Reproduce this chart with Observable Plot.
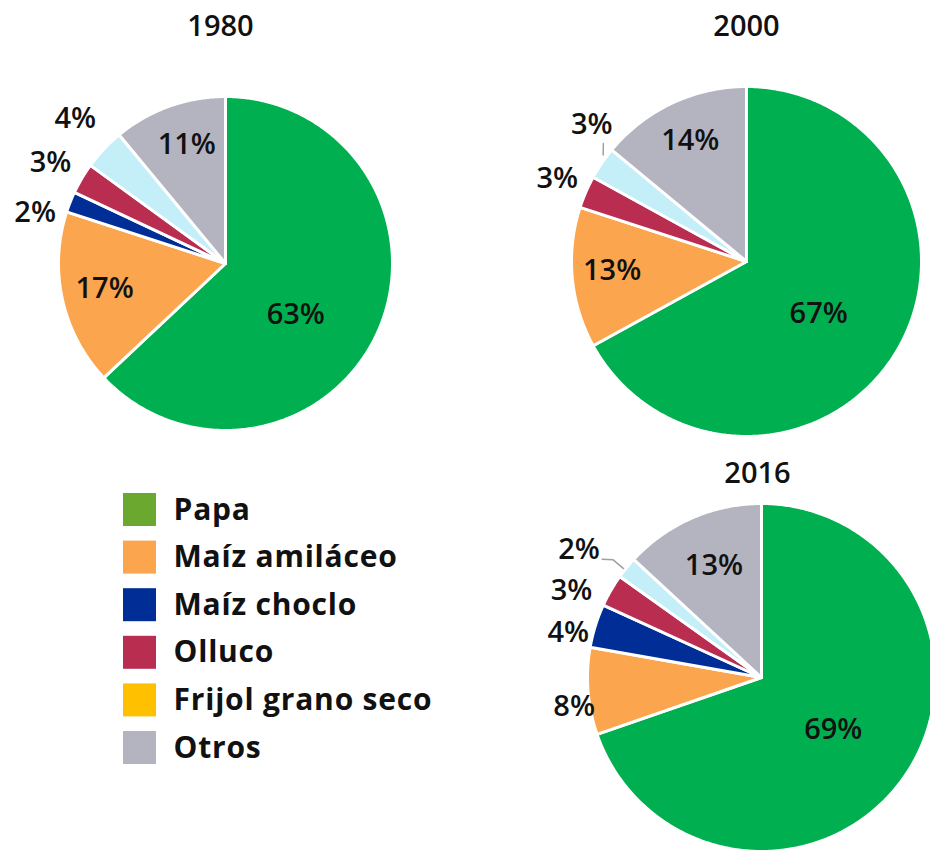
<!DOCTYPE html>
<html><head><meta charset="utf-8">
<script src="https://cdn.jsdelivr.net/npm/d3@7"></script>
<script src="https://cdn.jsdelivr.net/npm/@observablehq/plot@0.6"></script>
<style>html,body{margin:0;padding:0;background:#fff}svg{display:block}</style>
</head><body><div id="chart"></div>
<script>
// ---- data ----
const categories = ["Papa", "Maíz amiláceo", "Maíz choclo", "Olluco", "Frijol grano seco", "Otros"];
const years = ["1980", "2000", "2016"];
const values1980 = [63, 17, 2, 3, 4, 11];
const values2000 = [67, 13, 0, 3, 3, 14];
const values2016 = [69, 8, 4, 3, 2, 13];
const percentLabels1980 = ["63%", "17%", "2%", "3%", "4%", "11%"];
const percentLabels2000 = ["67%", "13%", "", "3%", "3%", "14%"];
const percentLabels2016 = ["69%", "8%", "4%", "3%", "2%", "13%"];

// ---- styles ----
const sliceColors = ["#00b050", "#fba64e", "#002e96", "#b82d50", "#c4eef8", "#b4b4c0"];
const legendColors = ["#6aa82f", "#fba64e", "#002e96", "#b82d50", "#ffc000", "#b4b4c0"];
const FONT = "'Open Sans', 'DejaVu Sans', sans-serif";

// ---- layout ----
const W = 930, H = 851;
const pieLayout = [
  {cx: 225, cy: 263, r: 167, tx: 220, ty: 26},
  {cx: 746, cy: 261, r: 175, tx: 746, ty: 26},
  {cx: 761, cy: 677, r: 174, tx: 757, ty: 473}
];
// label placement: [angle (deg, clockwise from top), radius fraction]
const labelPolar = [
  [[126, 0.52], [258, 0.74], [285, 1.18], [300, 1.21], [314, 1.25], [342, 0.75]],
  [[126, 0.51], [266, 0.77], null, [293.6, 1.18], [311.5, 1.18], [335, 0.76]],
  [[126, 0.51], [261, 1.09], [283, 1.14], [294.5, 1.2], [305, 1.28], [337, 0.70]]
];
// leader lines: list of [angle, radius fraction] points
const leaders = [
  [],
  [[[309.5, 1.06], [306.6, 1.02]]],
  [[[306.6, 1.14], [308.4, 1.09], [308.3, 1.01]]]
];
const legendLayout = {x1: 123, size: 33, y0: 493, step: 47.6, textX: 173};

const allValues = [values1980, values2000, values2016];
const allLabels = [percentLabels1980, percentLabels2000, percentLabels2016];

const polar = (p, deg, frac) => {
  const a = deg * Math.PI / 180;
  return {x: p.cx + p.r * frac * Math.sin(a), y: p.cy - p.r * frac * Math.cos(a)};
};

// slices -> polygons
const slicePts = [];
const labelData = [];
const leaderPts = [];
allValues.forEach((vals, pi) => {
  const p = pieLayout[pi];
  const total = d3.sum(vals);
  let acc = 0;
  vals.forEach((v, i) => {
    if (v <= 0) { return; }
    const a0 = acc / total * 360, a1 = (acc + v) / total * 360;
    acc += v;
    const id = `${pi}-${i}`;
    slicePts.push({id, color: sliceColors[i], x: p.cx, y: p.cy});
    const n = Math.max(2, Math.ceil((a1 - a0) / 0.5));
    for (let k = 0; k <= n; k++) {
      const q = polar(p, a0 + (a1 - a0) * k / n, 1);
      slicePts.push({id, color: sliceColors[i], x: q.x, y: q.y});
    }
    const lp = labelPolar[pi][i];
    if (lp && allLabels[pi][i]) {
      const q = polar(p, lp[0], lp[1]);
      labelData.push({x: q.x, y: q.y, text: allLabels[pi][i]});
    }
  });
  leaders[pi].forEach((ln, li) => ln.forEach(([a, f]) => {
    const q = polar(p, a, f);
    leaderPts.push({id: `${pi}-${li}`, x: q.x, y: q.y});
  }));
});

const titleData = years.map((y, i) => ({text: y, x: pieLayout[i].tx, y: pieLayout[i].ty}));
const legendData = categories.map((c, i) => ({
  text: c, color: legendColors[i],
  x1: legendLayout.x1, x2: legendLayout.x1 + legendLayout.size,
  y1: legendLayout.y0 + i * legendLayout.step,
  y2: legendLayout.y0 + i * legendLayout.step + legendLayout.size,
  tx: legendLayout.textX, ty: legendLayout.y0 + i * legendLayout.step + legendLayout.size / 2
}));

const chart = Plot.plot({
  width: W, height: H,
  margin: 0,
  x: {domain: [0, W], range: [0, W], axis: null},
  y: {domain: [0, H], range: [0, H], axis: null},
  color: {type: "identity"},
  style: {fontFamily: FONT, background: "#fff"},
  marks: [
    Plot.line(slicePts, {x: "x", y: "y", z: "id", fill: "color", stroke: "#fff", strokeWidth: 3, curve: "linear-closed", strokeLinejoin: "round"}),
    Plot.line(leaderPts, {x: "x", y: "y", z: "id", stroke: "#a0a0a0", strokeWidth: 1.5}),
    Plot.text(labelData, {x: "x", y: "y", text: "text", fontSize: 29, fontWeight: 600, fill: "#111", fontFamily: FONT}),
    Plot.text(titleData, {x: "x", y: "y", text: "text", fontSize: 29, fontWeight: 600, fill: "#111", fontFamily: FONT}),
    Plot.rect(legendData, {x1: "x1", x2: "x2", y1: "y1", y2: "y2", fill: "color"}),
    Plot.text(legendData, {x: "tx", y: "ty", text: "text", textAnchor: "start", fontSize: 30, fontWeight: 700, fill: "#111", fontFamily: FONT})
  ]
});
chart.querySelectorAll("g[aria-label='text']").forEach((g, i, all) => {
  if (i === all.length - 1) g.setAttribute("letter-spacing", "0.8");
});
document.getElementById("chart").append(chart);
</script>
</body></html>
